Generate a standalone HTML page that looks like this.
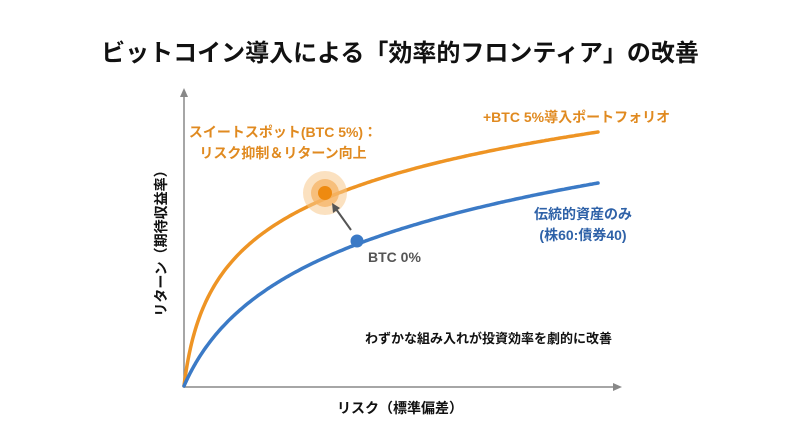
<!DOCTYPE html>
<html><head><meta charset="utf-8"><style>
html,body{margin:0;padding:0;background:#fff;}
svg{display:block;}
text{font-family:"Liberation Sans","Noto Sans CJK JP",sans-serif;font-weight:bold;}
</style></head><body>
<svg id="s" width="800" height="447" viewBox="0 0 800 447" xmlns="http://www.w3.org/2000/svg">
<rect width="800" height="447" fill="#fff"/>
<text x="400" y="61" text-anchor="middle" font-size="24" fill="#111">ビットコイン導入による「効率的フロンティア」の改善</text>
<line x1="184" y1="387" x2="184" y2="96" stroke="#888" stroke-width="1.5"/>
<polygon points="184,88 180,97 188,97" fill="#888"/>
<line x1="184" y1="387" x2="614" y2="387" stroke="#888" stroke-width="1.5"/>
<polygon points="622,387 613,383 613,391" fill="#888"/>
<path id="orange" fill="none" stroke="#EE9424" stroke-width="3.5" stroke-linecap="round"/>
<path id="blue" fill="none" stroke="#3B7AC6" stroke-width="3.5" stroke-linecap="round"/>
<circle cx="325" cy="193" r="22" fill="#F8C98C" opacity="0.55"/>
<circle cx="325" cy="193" r="14" fill="#F5B060" opacity="0.7"/>
<circle cx="325" cy="193" r="7" fill="#EE8A10"/>
<circle cx="357" cy="241" r="6.5" fill="#3B7AC6"/>
<line x1="351" y1="230" x2="336" y2="209" stroke="#555" stroke-width="2"/>
<polygon points="332,203 333,213 340,208" fill="#555"/>
<text x="483" y="122" font-size="14" fill="#E08A20">+BTC 5%導入ポートフォリオ</text>
<text x="283" y="137" text-anchor="middle" font-size="14" fill="#E08A20">スイートスポット(BTC 5%)：</text>
<text x="283" y="158" text-anchor="middle" font-size="14" fill="#E08A20">リスク抑制＆リターン向上</text>
<text x="583" y="219" text-anchor="middle" font-size="14" fill="#2F62A8">伝統的資産のみ</text>
<text x="583" y="240" text-anchor="middle" font-size="14" fill="#2F62A8">(株60:債券40)</text>
<text x="368" y="262" font-size="14" fill="#555">BTC 0%</text>
<text x="365" y="343" font-size="13" fill="#111">わずかな組み入れが投資効率を劇的に改善</text>
<text x="400" y="413" text-anchor="middle" font-size="14" fill="#111">リスク（標準偏差）</text>
<text transform="translate(166,240) rotate(-90)" text-anchor="middle" font-size="14" fill="#111">リターン（期待収益率）</text>
</svg>
<script>
function mk(A,b){var d="M184,386";for(var x=0.5;x<=414;x+=(x<20?0.5:2)){d+=" L"+(184+x)+","+(386-A*Math.log(1+x/b)).toFixed(1);}return d;}
document.getElementById("orange").setAttribute("d",mk(254/Math.log(1+414/8),8));
document.getElementById("blue").setAttribute("d",mk(203/Math.log(1+414/35),35));
</script>
</body></html>
